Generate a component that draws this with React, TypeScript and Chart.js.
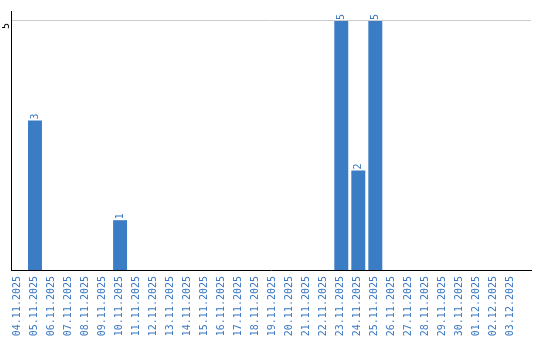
import React, { useEffect, useRef } from "react";
import { Chart, registerables } from "chart.js";

Chart.register(...registerables);

const dates: string[] = [
  "04.11.2025", "05.11.2025", "06.11.2025", "07.11.2025", "08.11.2025",
  "09.11.2025", "10.11.2025", "11.11.2025", "12.11.2025", "13.11.2025",
  "14.11.2025", "15.11.2025", "16.11.2025", "17.11.2025", "18.11.2025",
  "19.11.2025", "20.11.2025", "21.11.2025", "22.11.2025", "23.11.2025",
  "24.11.2025", "25.11.2025", "26.11.2025", "27.11.2025", "28.11.2025",
  "29.11.2025", "30.11.2025", "01.12.2025", "02.12.2025", "03.12.2025",
];

const counts: number[] = [
  0, 3, 0, 0, 0, 0, 1, 0, 0, 0,
  0, 0, 0, 0, 0, 0, 0, 0, 0, 5,
  2, 5, 0, 0, 0, 0, 0, 0, 0, 0,
];

const yTicks: number[] = [5];

const BAR_COLOR = "#3b7dc4";
const TEXT_COLOR = "#3a78c2";
const FONT_FAMILY = "'DejaVu Sans Mono', monospace";

const valueLabels = {
  id: "valueLabels",
  afterDatasetsDraw(chart: any) {
    const ctx = chart.ctx;
    const meta = chart.getDatasetMeta(0);
    meta.data.forEach((bar: any, i: number) => {
      const v = counts[i];
      if (!v) return;
      ctx.save();
      ctx.translate(bar.x, bar.y - 1);
      ctx.rotate(-Math.PI / 2);
      ctx.font = `10px ${FONT_FAMILY}`;
      ctx.fillStyle = TEXT_COLOR;
      ctx.textAlign = "left";
      ctx.textBaseline = "middle";
      ctx.fillText(String(v), 0, 0);
      ctx.restore();
    });
  },
};

export default function App() {
  const ref = useRef<HTMLCanvasElement>(null);

  useEffect(() => {
    document.body.style.margin = "0";
    const canvas = ref.current;
    if (!canvas) return;
    const chart = new Chart(canvas, {
      type: "bar",
      data: {
        datasets: [
          {
            data: counts.map((c, i) => ({ x: i, y: c })),
            backgroundColor: BAR_COLOR,
            borderWidth: 0,
            barPercentage: 0.82,
            categoryPercentage: 1,
          },
        ],
      },
      options: {
        animation: false,
        responsive: false,
        layout: { padding: { left: 2, right: 9, top: 8, bottom: 2 } },
        plugins: {
          legend: { display: false },
          tooltip: { enabled: false },
          title: { display: false },
        },
        scales: {
          x: {
            type: "linear",
            offset: false,
            min: -0.41,
            max: 30.15,
            afterBuildTicks: (scale: any) => {
              scale.ticks = dates.map((_, i) => ({ value: i }));
            },
            afterFit: (scale: any) => {
              scale.height = 68;
            },
            grid: { display: false, drawTicks: false, offset: false },
            border: { display: true, color: "#000", width: 1 },
            ticks: {
              autoSkip: false,
              minRotation: 90,
              maxRotation: 90,
              padding: 6,
              labelOffset: -1,
              color: TEXT_COLOR,
              font: { family: FONT_FAMILY, size: 10 },
              callback: (v: any) => dates[v] ?? "",
            },
          },
          y: {
            type: "linear",
            min: 0,
            max: 5.2,
            afterBuildTicks: (scale: any) => {
              scale.ticks = yTicks.map((v) => ({ value: v }));
            },
            afterFit: (scale: any) => {
              scale.width = 9;
            },
            grid: { color: "#cccccc", drawTicks: false },
            border: { display: true, color: "#000", width: 1 },
            ticks: {
              minRotation: 90,
              maxRotation: 90,
              padding: 5,
              labelOffset: 2,
              color: "#000",
              font: { family: FONT_FAMILY, size: 10 },
            },
          },
        },
      },
      plugins: [valueLabels],
    });
    return () => chart.destroy();
  }, []);

  return <canvas ref={ref} width={540} height={340} />;
}
